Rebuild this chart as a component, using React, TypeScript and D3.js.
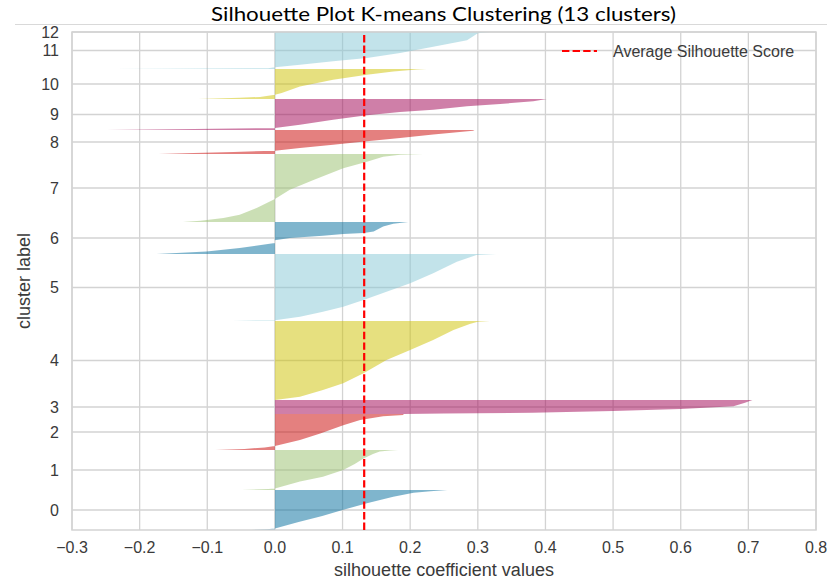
import * as d3 from "d3";

const W = 827;
const H = 582;

// cluster ids, bottom to top
const clusterLabels = [0, 1, 2, 3, 4, 5, 6, 7, 8, 9, 10, 11, 12];
// number of samples in each cluster
const clusterSizes = [40, 40, 36, 14, 79, 67, 32, 68, 24, 31, 30, 37, 0];
const clusterColors = [
  "#006b9b", "#97bf6b", "#c90100", "#9f0051", "#cdc100", "#85c7d5",
  "#006b9b", "#97bf6b", "#c90100", "#9f0051", "#cdc100", "#85c7d5", "#006b9b",
];

// sorted silhouette values per cluster: [rank within cluster (0..1), value]
const profile0: [number, number][] = [[0, -0.035], [0.02, -0.012], [0.04, 0], [0.2, 0.035], [0.35, 0.07], [0.5, 0.1], [0.67, 0.136], [0.83, 0.175], [0.93, 0.205], [0.97, 0.23], [1, 0.255]];
const profile1: [number, number][] = [[0, -0.049], [0.025, -0.01], [0.04, 0], [0.21, 0.037], [0.33, 0.071], [0.5, 0.101], [0.65, 0.118], [0.79, 0.131], [0.9, 0.145], [0.96, 0.155], [0.985, 0.17], [1, 0.182]];
const profile2: [number, number][] = [[0, -0.088], [0.03, -0.045], [0.07, -0.015], [0.11, 0], [0.28, 0.037], [0.46, 0.067], [0.69, 0.101], [0.83, 0.126], [0.94, 0.16], [0.97, 0.19], [1, 0.19]];
const profile3: [number, number][] = [[0, 0.19], [0.03, 0.25], [0.09, 0.38], [0.22, 0.5], [0.36, 0.6], [0.56, 0.678], [0.8, 0.695], [1, 0.706]];
const profile4: [number, number][] = [[0, 0], [0.042, 0.037], [0.127, 0.071], [0.211, 0.101], [0.338, 0.131], [0.506, 0.165], [0.633, 0.2], [0.759, 0.234], [0.886, 0.264], [0.962, 0.288], [0.99, 0.3], [1, 0.318]];
const profile5: [number, number][] = [[0, -0.062], [0.012, 0], [0.065, 0.037], [0.139, 0.071], [0.214, 0.101], [0.313, 0.131], [0.437, 0.165], [0.562, 0.2], [0.711, 0.234], [0.885, 0.269], [0.985, 0.298], [1, 0.327]];
const profile6: [number, number][] = [[0, -0.175], [0.08, -0.101], [0.19, -0.052], [0.34, 0], [0.428, 0], [0.5, 0.022], [0.572, 0.071], [0.625, 0.101], [0.656, 0.131], [0.706, 0.146], [0.862, 0.16], [0.947, 0.175], [1, 0.197]];
const profile7: [number, number][] = [[0, -0.136], [0.02, -0.11], [0.06, -0.076], [0.107, -0.052], [0.205, -0.027], [0.337, 0], [0.473, 0.022], [0.619, 0.057], [0.79, 0.101], [0.887, 0.136], [0.96, 0.16], [0.99, 0.185], [1, 0.219]];
const profile8: [number, number][] = [[0, -0.172], [0.04, -0.12], [0.08, -0.061], [0.14, 0], [0.25, 0.037], [0.39, 0.086], [0.53, 0.136], [0.67, 0.185], [0.81, 0.234], [0.97, 0.293], [1, 0.295]];
const profile9: [number, number][] = [[0, -0.248], [0.03, -0.12], [0.065, 0], [0.17, 0.037], [0.33, 0.086], [0.474, 0.136], [0.58, 0.185], [0.655, 0.234], [0.765, 0.284], [0.839, 0.333], [0.926, 0.382], [1, 0.402]];
const profile10: [number, number][] = [[0, -0.113], [0.04, -0.052], [0.07, -0.022], [0.14, 0], [0.2, 0.01], [0.42, 0.037], [0.64, 0.086], [0.81, 0.136], [0.92, 0.175], [0.98, 0.21], [1, 0.224]];
const profile11: [number, number][] = [[0, -0.237], [0.02, -0.01], [0.046, 0], [0.116, 0.037], [0.208, 0.086], [0.297, 0.136], [0.43, 0.185], [0.6, 0.234], [0.78, 0.284], [0.965, 0.3], [1, 0.318]];
const profile12: [number, number][] = [];

const profiles = [profile0, profile1, profile2, profile3, profile4, profile5, profile6, profile7, profile8, profile9, profile10, profile11, profile12];

const xTicks = [-0.3, -0.2, -0.1, 0.0, 0.1, 0.2, 0.3, 0.4, 0.5, 0.6, 0.7, 0.8];
const averageScore = 0.132;

const left = 72;
const right = 816;
const top = 32;
const bottom = 530;

const gridColor = "#d3d3d3";
const textColor = "#3a3a3a";
const sans = "'Liberation Sans', Arial, Helvetica, sans-serif";

export default function App() {
  const x = d3.scaleLinear().domain([-0.3, 0.8]).range([left, right]);
  const total = d3.sum(clusterSizes);
  const y = d3.scaleLinear().domain([0, total]).range([bottom, top]);
  const fmt = d3.format(".1f");

  const lowers = clusterSizes.map((_, i) => d3.sum(clusterSizes.slice(0, i)));

  return (
    <div style={{ position: "absolute", left: 0, top: 0 }}>
      <svg width={W} height={H} style={{ display: "block", background: "#fff" }}>
        {/* title */}
        <text
          x={211}
          y={21}
          fontFamily="Lato, 'Open Sans', sans-serif"
          fontSize={20}
          fill="#000"
          textLength={465}
          lengthAdjust="spacingAndGlyphs"
        >
          Silhouette Plot K-means Clustering (13 clusters)
        </text>
        <line x1={15} x2={W} y1={24.5} y2={24.5} stroke="#d9d9d9" strokeWidth={1} />

        {/* grid */}
        {xTicks.map((t) => (
          <line key={"gx" + t} x1={x(t)} x2={x(t)} y1={top} y2={bottom} stroke={gridColor} strokeWidth={1.3} />
        ))}
        {clusterLabels.map((c, i) => {
          const yy = y(lowers[i] + clusterSizes[i] / 2);
          return <line key={"gy" + c} x1={left} x2={right} y1={yy} y2={yy} stroke={gridColor} strokeWidth={1.3} />;
        })}

        {/* silhouettes */}
        {profiles.map((p, i) => {
          if (!p.length) return null;
          const area = d3
            .area<[number, number]>()
            .x0(x(0))
            .x1((d) => x(d[1]))
            .y((d) => y(lowers[i] + d[0] * clusterSizes[i]));
          return <path key={"s" + i} d={area(p) ?? ""} fill={clusterColors[i]} fillOpacity={0.5} />;
        })}

        {/* frame */}
        <rect x={left} y={top} width={right - left} height={bottom - top} fill="none" stroke={gridColor} strokeWidth={1.5} />

        {/* average line */}
        <line
          x1={x(averageScore)}
          x2={x(averageScore)}
          y1={bottom}
          y2={top}
          stroke="#ff0000"
          strokeWidth={2.2}
          strokeDasharray="7.4 3.2"
        />

        {/* x tick labels */}
        {xTicks.map((t) => (
          <text key={"tx" + t} x={x(t)} y={553} textAnchor="middle" fontFamily={sans} fontSize={16} fill={textColor}>
            {fmt(t)}
          </text>
        ))}
        {/* y tick labels */}
        {clusterLabels.map((c, i) => (
          <text
            key={"ty" + c}
            x={59}
            y={y(lowers[i] + clusterSizes[i] / 2)}
            dy="0.36em"
            textAnchor="end"
            fontFamily={sans}
            fontSize={16}
            fill={textColor}
          >
            {c}
          </text>
        ))}

        {/* axis labels */}
        <text x={(left + right) / 2} y={576} textAnchor="middle" fontFamily={sans} fontSize={18} fill={textColor}>
          silhouette coefficient values
        </text>
        <text
          transform={`translate(30,${(top + bottom) / 2}) rotate(-90)`}
          textAnchor="middle"
          fontFamily={sans}
          fontSize={18}
          fill={textColor}
        >
          cluster label
        </text>

        {/* legend */}
        <line x1={562} x2={597} y1={51} y2={51} stroke="#ff0000" strokeWidth={2.2} strokeDasharray="7.4 3.2" />
        <text x={613} y={57} fontFamily={sans} fontSize={16} fill={textColor}>
          Average Silhouette Score
        </text>
      </svg>
    </div>
  );
}
